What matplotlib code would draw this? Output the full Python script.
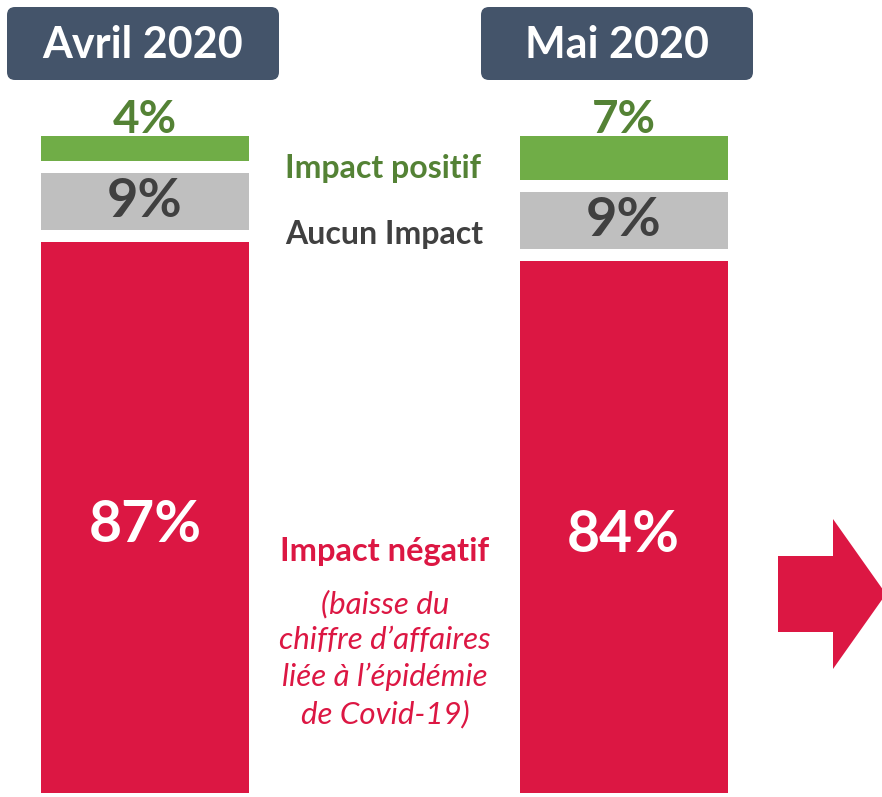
import matplotlib
matplotlib.use("Agg")
import matplotlib.pyplot as plt
import numpy as np
from matplotlib.patches import FancyBboxPatch, Polygon

# data
periods = ["Avril 2020", "Mai 2020"]
negatif = [87, 84]
aucun = [9, 9]
positif = [4, 7]

RED = "#DC1743"
GRAY = "#BFBFBF"
GREEN = "#70AD47"
GREEN_TXT = "#548235"
GRAY_TXT = "#404040"
HEAD = "#44546A"
FONT = "Lato"

W, H = 882, 797
fig = plt.figure(figsize=(W / 100, H / 100), dpi=100)
fig.patch.set_facecolor("white")

# bar axes: categories on x, percent on y
ax = fig.add_axes([0, 0, 1, 1])
px_per_cat = 478.5
px_per_pct = 6.33
ax.set_xlim(-145 / px_per_cat, (W - 145) / px_per_cat)
ax.set_ylim(-4 / px_per_pct, (H - 4) / px_per_pct)
ax.axis("off")

gap = 12 / px_per_pct
width = 208 / px_per_cat
x = np.arange(len(periods))
neg = np.array(negatif, dtype=float)
auc = np.array(aucun, dtype=float)
pos = np.array(positif, dtype=float)

ax.bar(x, neg, width=width, color=RED)
auc_bottom = neg + gap
ax.bar(x, auc, bottom=auc_bottom, width=width, color=GRAY)
pos_bottom = auc_bottom + auc + gap
ax.bar(x, pos, bottom=pos_bottom, width=width, color=GREEN)

for i in range(len(periods)):
    ax.text(x[i], neg[i] / 2 - 1.3, f"{negatif[i]}%", ha="center", va="center",
            color="white", fontsize=41, fontweight="bold", family=FONT)
    ax.text(x[i], auc_bottom[i] + auc[i] / 2, f"{aucun[i]}%", ha="center", va="center",
            color=GRAY_TXT, fontsize=39, fontweight="bold", family=FONT)
    ax.text(x[i], pos_bottom[i] + pos[i] + 0.4, f"{positif[i]}%", ha="center", va="baseline",
            color=GREEN_TXT, fontsize=33, fontweight="bold", family=FONT)

# overlay in pixel coordinates for headers, side labels and arrow
ov = fig.add_axes([0, 0, 1, 1])
ov.set_xlim(0, W)
ov.set_ylim(H, 0)
ov.axis("off")
ov.patch.set_alpha(0)

boxes = [(7, 279), (481, 753)]
for (x0, x1), label in zip(boxes, periods):
    ov.add_patch(FancyBboxPatch((x0 + 8, 7 + 8), x1 - x0 - 16, 73 - 16,
                                boxstyle="round,pad=8", facecolor=HEAD, edgecolor="none"))
    ov.text((x0 + x1) / 2, 45, label, ha="center", va="center", color="white",
            fontsize=31, fontweight="bold", family=FONT)

ov.text(383, 168, "Impact positif", ha="center", va="center", color=GREEN_TXT,
        fontsize=23, fontweight="bold", family=FONT)
ov.text(384, 234, "Aucun Impact", ha="center", va="center", color=GRAY_TXT,
        fontsize=23, fontweight="bold", family=FONT)
ov.text(385, 551, "Impact négatif", ha="center", va="center", color=RED,
        fontsize=23.5, fontweight="bold", family=FONT)
ov.text(385, 659, "(baisse du\nchiffre d\u2019affaires\nliée à l\u2019épidémie\nde Covid-19)",
        ha="center", va="center", color=RED, fontsize=22.5, style="italic",
        family=FONT, linespacing=1.36)

arrow = Polygon([(778, 556), (833, 556), (833, 519), (886, 594),
                 (833, 669), (833, 632), (778, 632)], closed=True,
                facecolor=RED, edgecolor="none")
ov.add_patch(arrow)

fig.savefig("out.png", dpi=100, facecolor="white")
